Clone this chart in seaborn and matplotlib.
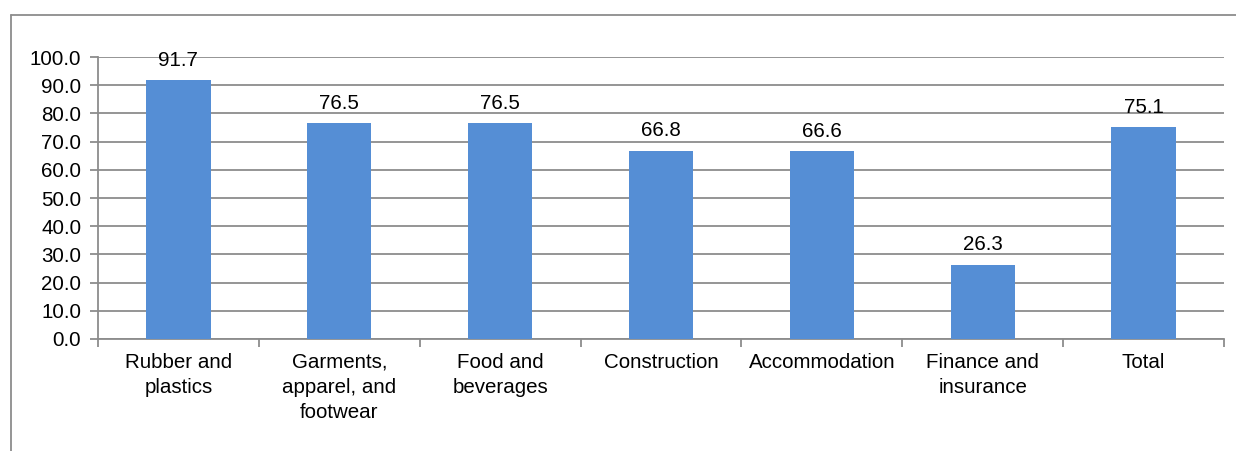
import matplotlib
matplotlib.use("Agg")
import matplotlib.pyplot as plt
import seaborn as sns
import pandas as pd
from matplotlib.lines import Line2D

categories = [
    "Rubber and\nplastics",
    "Garments,\napparel, and\nfootwear",
    "Food and\nbeverages",
    "Construction",
    "Accommodation",
    "Finance and\ninsurance",
    "Total",
]
values = [91.7, 76.5, 76.5, 66.8, 66.6, 26.3, 75.1]
y_ticks = [0, 10, 20, 30, 40, 50, 60, 70, 80, 90, 100]

df = pd.DataFrame({"category": categories, "value": values})

sns.set_theme(style="white")
plt.rcParams["font.family"] = ["Liberation Sans", "DejaVu Sans"]

DPI = 100
FS = 14.8
fig = plt.figure(figsize=(1236 / DPI, 451 / DPI), dpi=DPI)
W, H = 1236, 451
ax = fig.add_axes([98 / W, 1 - 339 / H, (1224 - 98) / W, (339 - 57) / H])

bar_color = "#558ED5"
sns.barplot(data=df, x="category", y="value", color=bar_color, width=0.4,
            saturation=1, ax=ax, zorder=3)
for p in ax.patches:
    p.set_edgecolor("none")

ax.set_ylim(0, 100)
ax.set_xlim(-0.5, len(categories) - 0.5)
ax.set_yticks(y_ticks)
ax.set_yticklabels([f"{t:.1f}" for t in y_ticks], fontsize=FS, color="black")
ax.yaxis.grid(True, color="#8c8c8c", linewidth=1.3, zorder=0)
ax.set_axisbelow(True)

# Category tick marks sit on the boundaries between categories
ax.set_xticks([i for i in range(len(categories))])
ax.set_xticklabels(categories, fontsize=FS, color="black", linespacing=1.4)
ax.tick_params(axis="x", length=0, pad=10)
ax.set_xticks([i - 0.5 for i in range(len(categories) + 1)], minor=True)
ax.tick_params(axis="x", which="minor", length=6, width=1.3, color="#8c8c8c",
               direction="out", bottom=True)
ax.tick_params(axis="y", length=6, width=1.3, color="#8c8c8c",
               direction="out", left=True, pad=6)

for s in ["top", "right"]:
    ax.spines[s].set_visible(False)
for s in ["left", "bottom"]:
    ax.spines[s].set_visible(True)
    ax.spines[s].set_color("#8c8c8c")
    ax.spines[s].set_linewidth(1.3)
ax.set_xlabel("")
ax.set_ylabel("")

for i, v in enumerate(values):
    ax.annotate(f"{v:.1f}", (i, v), xytext=(0, 7.5), textcoords="offset points",
                ha="center", va="bottom", fontsize=FS, color="black")

# Chart frame along the top and left edges
fig.add_artist(Line2D([11 / W, 1.0], [1 - 15 / H, 1 - 15 / H],
                      transform=fig.transFigure, color="#8c8c8c", linewidth=1.3))
fig.add_artist(Line2D([11 / W, 11 / W], [0.0, 1 - 15 / H],
                      transform=fig.transFigure, color="#8c8c8c", linewidth=1.3))

fig.savefig("out.png", dpi=DPI, facecolor="white")
